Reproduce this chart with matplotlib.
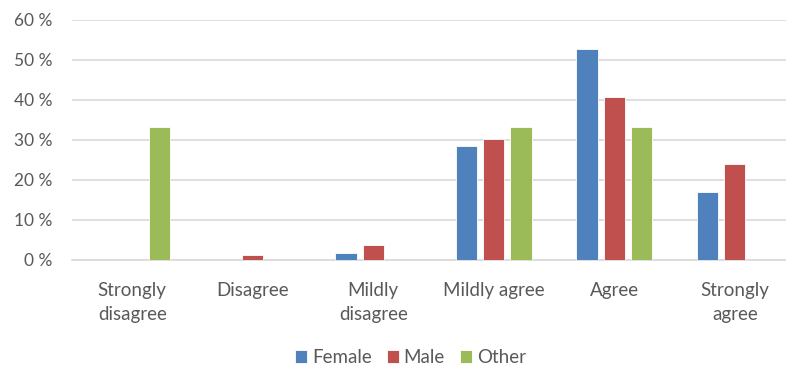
import numpy as np
import matplotlib.pyplot as plt
from matplotlib.ticker import FuncFormatter

categories = ["Strongly\ndisagree", "Disagree", "Mildly\ndisagree",
              "Mildly agree", "Agree", "Strongly\nagree"]
female = [0.0, 0.0, 1.7, 28.5, 52.7, 17.1]
male = [0.0, 1.25, 3.7, 30.2, 40.8, 24.0]
other = [33.3, 0.0, 0.0, 33.3, 33.3, 0.0]

series = [("Female", female, "#4F81BD"),
          ("Male", male, "#C0504D"),
          ("Other", other, "#9BBB59")]

plt.rcParams['font.family'] = ['Lato', 'DejaVu Sans']
text_color = "#595959"

fig = plt.figure(figsize=(7.86, 3.70), dpi=100)
# plot area runs a little past the right edge, as in the source layout
ax = fig.add_axes([72 / 786, 1 - 260 / 370, 723 / 786, 240 / 370])

x = np.arange(len(categories))
width = 0.176
step = 0.227
for i, (name, vals, color) in enumerate(series):
    ax.bar(x + (i - 1) * step, vals, width, color=color, label=name,
           edgecolor="white", linewidth=0.6, zorder=3)

ax.set_xlim(-0.5, len(categories) - 0.5)
ax.set_ylim(0, 60)
ax.set_yticks(np.arange(0, 61, 10))
ax.yaxis.set_major_formatter(FuncFormatter(lambda v, _: f"{v:.0f} %"))
ax.grid(axis="y", color="#d9d9d9", linewidth=1.2, zorder=0)
ax.set_axisbelow(True)

for side in ["top", "right", "left"]:
    ax.spines[side].set_visible(False)
ax.spines["bottom"].set_color("#d9d9d9")
ax.spines["bottom"].set_linewidth(1.2)

ax.set_xticks(x)
ax.set_xticklabels(categories, linespacing=1.45)
ax.tick_params(axis="x", length=0, labelsize=13.5, colors=text_color, pad=16)
ax.tick_params(axis="y", length=0, labelsize=12.5, colors=text_color, pad=14)

ax.legend(loc="upper center", bbox_to_anchor=(0.468, -0.355), ncol=3,
          frameon=False, fontsize=13.5, handlelength=0.65, handleheight=0.65,
          handletextpad=0.25, columnspacing=0.8, labelcolor=text_color,
          borderaxespad=0, borderpad=0.2)

fig.savefig("out.png", dpi=100)
